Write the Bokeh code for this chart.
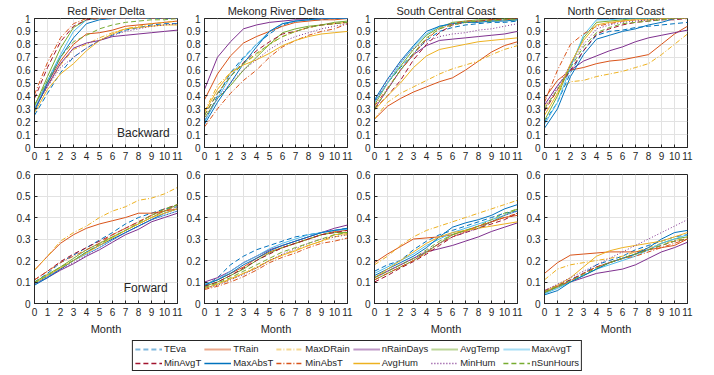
from bokeh.plotting import figure
from bokeh.layouts import column, row
from bokeh.models import (FixedTicker, CustomJSTickFormatter, Label, Legend,
                          LegendItem, Range1d, ColumnDataSource)
from bokeh.embed import file_html
from bokeh.resources import INLINE

# ---------------- data ----------------
MONTHS = list(range(12))
X_TICKS = list(range(12))
Y_TICKS_BACKWARD = [0, 0.1, 0.2, 0.3, 0.4, 0.5, 0.6, 0.7, 0.8, 0.9, 1.0]
Y_TICKS_FORWARD = [0, 0.1, 0.2, 0.3, 0.4, 0.5, 0.6]
REGIONS = ["Red River Delta", "Mekong River Delta", "South Central Coast", "North Central Coast"]
VARIABLES = ["TEva", "TRain", "MaxDRain", "nRainDays", "AvgTemp", "MaxAvgT",
             "MinAvgT", "MaxAbsT", "MinAbsT", "AvgHum", "MinHum", "nSunHours"]

RED_RIVER_BACKWARD = {
    "TEva":      [0.25, 0.42, 0.58, 0.70, 0.77, 0.83, 0.87, 0.91, 0.93, 0.95, 0.96, 0.96],
    "TRain":     [0.33, 0.50, 0.67, 0.80, 0.88, 0.89, 0.91, 0.94, 0.95, 0.96, 0.97, 0.98],
    "MaxDRain":  [0.30, 0.48, 0.64, 0.76, 0.80, 0.85, 0.89, 0.92, 0.94, 0.96, 0.97, 0.98],
    "nRainDays": [0.30, 0.48, 0.65, 0.77, 0.81, 0.83, 0.86, 0.87, 0.88, 0.89, 0.90, 0.91],
    "AvgTemp":   [0.32, 0.55, 0.77, 0.93, 0.99, 1.00, 1.00, 1.00, 1.00, 1.00, 1.00, 1.00],
    "MaxAvgT":   [0.30, 0.52, 0.72, 0.90, 0.99, 1.00, 1.00, 1.00, 1.00, 1.00, 1.00, 1.00],
    "MinAvgT":   [0.38, 0.62, 0.82, 0.94, 0.99, 1.00, 1.00, 1.00, 1.00, 1.00, 1.00, 1.00],
    "MaxAbsT":   [0.28, 0.50, 0.70, 0.85, 0.96, 0.99, 1.00, 1.00, 1.00, 1.00, 1.00, 1.00],
    "MinAbsT":   [0.41, 0.66, 0.85, 0.96, 1.00, 1.00, 1.00, 1.00, 1.00, 1.00, 1.00, 1.00],
    "AvgHum":    [0.27, 0.45, 0.57, 0.65, 0.75, 0.83, 0.88, 0.92, 0.93, 0.94, 0.95, 0.95],
    "MinHum":    [0.30, 0.47, 0.62, 0.70, 0.77, 0.83, 0.87, 0.90, 0.92, 0.94, 0.95, 0.96],
    "nSunHours": [0.33, 0.52, 0.70, 0.82, 0.87, 0.92, 0.95, 0.97, 0.98, 0.99, 0.99, 1.00],
}
MEKONG_BACKWARD = {
    "TEva":      [0.20, 0.40, 0.58, 0.70, 0.80, 0.88, 0.95, 0.98, 0.99, 0.99, 1.00, 1.00],
    "TRain":     [0.37, 0.57, 0.71, 0.81, 0.86, 0.90, 0.94, 0.97, 0.98, 0.99, 0.99, 1.00],
    "MaxDRain":  [0.28, 0.48, 0.58, 0.65, 0.72, 0.80, 0.86, 0.90, 0.93, 0.95, 0.96, 0.97],
    "nRainDays": [0.45, 0.70, 0.82, 0.92, 0.95, 0.97, 0.98, 0.99, 0.99, 1.00, 1.00, 1.00],
    "AvgTemp":   [0.23, 0.38, 0.48, 0.60, 0.70, 0.80, 0.89, 0.92, 0.94, 0.95, 0.97, 0.98],
    "MaxAvgT":   [0.20, 0.38, 0.55, 0.69, 0.80, 0.90, 0.96, 0.98, 0.99, 1.00, 1.00, 1.00],
    "MinAvgT":   [0.25, 0.42, 0.55, 0.66, 0.75, 0.82, 0.88, 0.90, 0.93, 0.95, 0.96, 0.97],
    "MaxAbsT":   [0.18, 0.35, 0.50, 0.65, 0.78, 0.90, 0.96, 0.98, 0.99, 1.00, 1.00, 1.00],
    "MinAbsT":   [0.16, 0.30, 0.42, 0.52, 0.60, 0.70, 0.78, 0.83, 0.87, 0.90, 0.92, 0.96],
    "AvgHum":    [0.27, 0.45, 0.58, 0.64, 0.68, 0.73, 0.79, 0.83, 0.86, 0.88, 0.89, 0.90],
    "MinHum":    [0.22, 0.38, 0.50, 0.60, 0.68, 0.76, 0.82, 0.86, 0.89, 0.92, 0.94, 0.96],
    "nSunHours": [0.25, 0.42, 0.55, 0.65, 0.73, 0.80, 0.86, 0.90, 0.93, 0.95, 0.96, 0.97],
}
SOUTH_CENTRAL_BACKWARD = {
    "TEva":      [0.36, 0.50, 0.62, 0.73, 0.83, 0.90, 0.93, 0.95, 0.96, 0.97, 0.97, 0.98],
    "TRain":     [0.22, 0.32, 0.38, 0.43, 0.47, 0.51, 0.54, 0.60, 0.67, 0.74, 0.79, 0.82],
    "MaxDRain":  [0.22, 0.35, 0.42, 0.47, 0.52, 0.57, 0.61, 0.64, 0.67, 0.72, 0.76, 0.79],
    "nRainDays": [0.30, 0.45, 0.60, 0.72, 0.79, 0.83, 0.84, 0.85, 0.86, 0.87, 0.88, 0.90],
    "AvgTemp":   [0.33, 0.50, 0.63, 0.76, 0.87, 0.93, 0.97, 0.98, 0.99, 0.99, 1.00, 1.00],
    "MaxAvgT":   [0.35, 0.50, 0.65, 0.78, 0.88, 0.94, 0.96, 0.97, 0.98, 0.98, 0.99, 0.99],
    "MinAvgT":   [0.30, 0.40, 0.52, 0.68, 0.80, 0.89, 0.95, 0.97, 0.98, 0.99, 0.99, 1.00],
    "MaxAbsT":   [0.37, 0.53, 0.67, 0.79, 0.90, 0.94, 0.96, 0.97, 0.97, 0.98, 0.98, 0.99],
    "MinAbsT":   [0.32, 0.46, 0.60, 0.72, 0.84, 0.92, 0.96, 0.98, 0.98, 0.99, 0.99, 1.00],
    "AvgHum":    [0.29, 0.40, 0.50, 0.62, 0.71, 0.76, 0.78, 0.80, 0.82, 0.83, 0.84, 0.85],
    "MinHum":    [0.35, 0.52, 0.66, 0.77, 0.82, 0.86, 0.88, 0.89, 0.91, 0.92, 0.94, 0.96],
    "nSunHours": [0.30, 0.45, 0.60, 0.73, 0.85, 0.92, 0.95, 0.97, 0.98, 0.98, 0.99, 0.99],
}
NORTH_CENTRAL_BACKWARD = {
    "TEva":      [0.20, 0.35, 0.58, 0.75, 0.87, 0.90, 0.91, 0.93, 0.94, 0.95, 0.96, 0.97],
    "TRain":     [0.38, 0.52, 0.60, 0.62, 0.65, 0.67, 0.68, 0.70, 0.72, 0.80, 0.88, 0.94],
    "MaxDRain":  [0.32, 0.43, 0.51, 0.52, 0.55, 0.57, 0.59, 0.62, 0.65, 0.72, 0.80, 0.88],
    "nRainDays": [0.33, 0.48, 0.60, 0.67, 0.71, 0.75, 0.78, 0.82, 0.85, 0.87, 0.89, 0.91],
    "AvgTemp":   [0.21, 0.40, 0.64, 0.85, 0.97, 0.98, 0.99, 1.00, 1.00, 1.00, 1.00, 1.00],
    "MaxAvgT":   [0.18, 0.35, 0.62, 0.87, 0.99, 0.99, 1.00, 1.00, 1.00, 1.00, 1.00, 1.00],
    "MinAvgT":   [0.28, 0.45, 0.60, 0.75, 0.88, 0.92, 0.95, 0.97, 0.98, 0.99, 0.99, 1.00],
    "MaxAbsT":   [0.15, 0.30, 0.55, 0.72, 0.84, 0.87, 0.90, 0.92, 0.95, 0.97, 1.00, 1.00],
    "MinAbsT":   [0.35, 0.60, 0.80, 0.88, 0.94, 0.96, 0.98, 0.99, 0.99, 1.00, 1.00, 1.00],
    "AvgHum":    [0.25, 0.42, 0.65, 0.83, 0.95, 0.97, 0.98, 0.99, 0.99, 1.00, 1.00, 1.00],
    "MinHum":    [0.30, 0.47, 0.64, 0.80, 0.92, 0.95, 0.97, 0.98, 0.99, 0.99, 1.00, 1.00],
    "nSunHours": [0.30, 0.45, 0.62, 0.78, 0.89, 0.93, 0.96, 0.97, 0.98, 0.99, 1.00, 1.00],
}
RED_RIVER_FORWARD = {
    "TEva":      [0.100, 0.140, 0.190, 0.225, 0.260, 0.295, 0.330, 0.370, 0.400, 0.420, 0.440, 0.450],
    "TRain":     [0.155, 0.220, 0.280, 0.320, 0.350, 0.370, 0.385, 0.400, 0.420, 0.420, 0.430, 0.440],
    "MaxDRain":  [0.155, 0.220, 0.290, 0.330, 0.360, 0.400, 0.430, 0.450, 0.480, 0.490, 0.510, 0.540],
    "nRainDays": [0.090, 0.120, 0.155, 0.185, 0.220, 0.250, 0.285, 0.320, 0.345, 0.380, 0.400, 0.420],
    "AvgTemp":   [0.100, 0.135, 0.170, 0.210, 0.250, 0.280, 0.310, 0.340, 0.370, 0.400, 0.430, 0.460],
    "MaxAvgT":   [0.090, 0.125, 0.160, 0.200, 0.230, 0.260, 0.295, 0.330, 0.360, 0.390, 0.410, 0.430],
    "MinAvgT":   [0.110, 0.150, 0.195, 0.230, 0.260, 0.290, 0.320, 0.350, 0.380, 0.410, 0.440, 0.460],
    "MaxAbsT":   [0.085, 0.120, 0.160, 0.200, 0.240, 0.270, 0.300, 0.330, 0.360, 0.390, 0.420, 0.440],
    "MinAbsT":   [0.110, 0.150, 0.190, 0.220, 0.250, 0.280, 0.320, 0.350, 0.380, 0.410, 0.430, 0.450],
    "AvgHum":    [0.095, 0.130, 0.165, 0.200, 0.235, 0.270, 0.305, 0.340, 0.370, 0.400, 0.420, 0.440],
    "MinHum":    [0.090, 0.125, 0.160, 0.190, 0.225, 0.260, 0.295, 0.330, 0.360, 0.390, 0.410, 0.430],
    "nSunHours": [0.095, 0.130, 0.170, 0.200, 0.240, 0.275, 0.310, 0.340, 0.375, 0.410, 0.440, 0.460],
}
MEKONG_FORWARD = {
    "TEva":      [0.080, 0.120, 0.180, 0.220, 0.250, 0.270, 0.290, 0.310, 0.320, 0.330, 0.340, 0.350],
    "TRain":     [0.090, 0.110, 0.140, 0.170, 0.210, 0.240, 0.260, 0.280, 0.300, 0.320, 0.335, 0.340],
    "MaxDRain":  [0.070, 0.090, 0.110, 0.140, 0.170, 0.200, 0.225, 0.250, 0.270, 0.290, 0.310, 0.320],
    "nRainDays": [0.100, 0.120, 0.150, 0.190, 0.220, 0.250, 0.270, 0.290, 0.310, 0.330, 0.350, 0.365],
    "AvgTemp":   [0.080, 0.100, 0.130, 0.160, 0.200, 0.235, 0.260, 0.280, 0.300, 0.320, 0.330, 0.330],
    "MaxAvgT":   [0.090, 0.110, 0.150, 0.190, 0.220, 0.255, 0.280, 0.300, 0.320, 0.330, 0.340, 0.345],
    "MinAvgT":   [0.080, 0.100, 0.130, 0.165, 0.200, 0.230, 0.260, 0.280, 0.300, 0.320, 0.330, 0.340],
    "MaxAbsT":   [0.085, 0.110, 0.140, 0.180, 0.210, 0.245, 0.270, 0.290, 0.310, 0.330, 0.340, 0.350],
    "MinAbsT":   [0.065, 0.080, 0.100, 0.125, 0.155, 0.190, 0.215, 0.235, 0.260, 0.280, 0.290, 0.305],
    "AvgHum":    [0.070, 0.090, 0.115, 0.140, 0.165, 0.200, 0.225, 0.245, 0.270, 0.290, 0.320, 0.325],
    "MinHum":    [0.070, 0.085, 0.110, 0.135, 0.165, 0.200, 0.230, 0.255, 0.280, 0.300, 0.310, 0.320],
    "nSunHours": [0.075, 0.095, 0.120, 0.150, 0.180, 0.210, 0.240, 0.260, 0.280, 0.300, 0.320, 0.330],
}
SOUTH_CENTRAL_FORWARD = {
    "TEva":      [0.150, 0.180, 0.200, 0.250, 0.290, 0.320, 0.340, 0.360, 0.380, 0.400, 0.420, 0.430],
    "TRain":     [0.190, 0.230, 0.265, 0.300, 0.305, 0.310, 0.320, 0.340, 0.360, 0.380, 0.400, 0.410],
    "MaxDRain":  [0.180, 0.220, 0.270, 0.310, 0.340, 0.360, 0.380, 0.400, 0.420, 0.440, 0.460, 0.480],
    "nRainDays": [0.120, 0.150, 0.180, 0.210, 0.240, 0.255, 0.270, 0.290, 0.310, 0.335, 0.355, 0.375],
    "AvgTemp":   [0.110, 0.140, 0.170, 0.200, 0.240, 0.280, 0.320, 0.340, 0.350, 0.380, 0.410, 0.440],
    "MaxAvgT":   [0.140, 0.170, 0.200, 0.230, 0.270, 0.300, 0.330, 0.350, 0.370, 0.390, 0.410, 0.430],
    "MinAvgT":   [0.100, 0.130, 0.165, 0.195, 0.230, 0.270, 0.310, 0.330, 0.350, 0.370, 0.390, 0.420],
    "MaxAbsT":   [0.130, 0.160, 0.190, 0.220, 0.260, 0.310, 0.355, 0.375, 0.390, 0.410, 0.440, 0.460],
    "MinAbsT":   [0.110, 0.140, 0.170, 0.200, 0.235, 0.280, 0.310, 0.335, 0.360, 0.380, 0.400, 0.420],
    "AvgHum":    [0.120, 0.160, 0.200, 0.240, 0.280, 0.310, 0.330, 0.340, 0.350, 0.360, 0.370, 0.380],
    "MinHum":    [0.120, 0.150, 0.180, 0.210, 0.245, 0.280, 0.310, 0.330, 0.350, 0.380, 0.410, 0.430],
    "nSunHours": [0.120, 0.150, 0.180, 0.210, 0.250, 0.290, 0.320, 0.340, 0.360, 0.390, 0.420, 0.440],
}
NORTH_CENTRAL_FORWARD = {
    "TEva":      [0.050, 0.080, 0.110, 0.140, 0.180, 0.200, 0.220, 0.250, 0.270, 0.290, 0.310, 0.320],
    "TRain":     [0.140, 0.190, 0.225, 0.230, 0.235, 0.240, 0.240, 0.240, 0.250, 0.260, 0.270, 0.300],
    "MaxDRain":  [0.110, 0.160, 0.180, 0.190, 0.200, 0.210, 0.220, 0.240, 0.260, 0.280, 0.290, 0.310],
    "nRainDays": [0.050, 0.080, 0.100, 0.120, 0.140, 0.150, 0.160, 0.180, 0.210, 0.240, 0.260, 0.285],
    "AvgTemp":   [0.050, 0.075, 0.100, 0.130, 0.160, 0.190, 0.210, 0.230, 0.250, 0.280, 0.300, 0.310],
    "MaxAvgT":   [0.045, 0.070, 0.100, 0.130, 0.160, 0.180, 0.200, 0.220, 0.250, 0.280, 0.300, 0.320],
    "MinAvgT":   [0.060, 0.085, 0.110, 0.140, 0.170, 0.190, 0.210, 0.230, 0.250, 0.270, 0.290, 0.300],
    "MaxAbsT":   [0.040, 0.060, 0.100, 0.130, 0.160, 0.190, 0.210, 0.230, 0.260, 0.300, 0.330, 0.340],
    "MinAbsT":   [0.055, 0.080, 0.105, 0.140, 0.170, 0.190, 0.210, 0.220, 0.240, 0.260, 0.280, 0.300],
    "AvgHum":    [0.055, 0.085, 0.120, 0.170, 0.220, 0.245, 0.260, 0.270, 0.280, 0.290, 0.310, 0.330],
    "MinHum":    [0.060, 0.090, 0.120, 0.150, 0.180, 0.210, 0.240, 0.270, 0.300, 0.330, 0.360, 0.390],
    "nSunHours": [0.055, 0.080, 0.105, 0.135, 0.165, 0.190, 0.210, 0.230, 0.250, 0.270, 0.290, 0.300],
}

BACKWARD = [RED_RIVER_BACKWARD, MEKONG_BACKWARD, SOUTH_CENTRAL_BACKWARD, NORTH_CENTRAL_BACKWARD]
FORWARD = [RED_RIVER_FORWARD, MEKONG_FORWARD, SOUTH_CENTRAL_FORWARD, NORTH_CENTRAL_FORWARD]

# ---------------- styles ----------------
C1, C2, C3, C4, C5, C6, C7 = ("#0072BD", "#D95319", "#EDB120", "#7E2F8E",
                              "#77AC30", "#4DBEEE", "#A2142F")
DASH, DASHDOT, DOT = "5 3", "5 2 1 2", "1 2"
STYLE = {
    "TEva": (C1, DASH), "TRain": (C2, "solid"), "MaxDRain": (C3, DASHDOT),
    "nRainDays": (C4, "solid"), "AvgTemp": (C5, "solid"), "MaxAvgT": (C6, "solid"),
    "MinAvgT": (C7, DASH), "MaxAbsT": (C1, "solid"), "MinAbsT": (C2, DASHDOT),
    "AvgHum": (C3, "solid"), "MinHum": (C4, DOT), "nSunHours": (C5, DASH),
}
TXT = "#262626"
FONT = "Liberation Sans"
GRID = "#e2e2e2"

LEFTS = [34, 19, 21, 19]
RIGHTS = [6, 6, 6, 31]

yfmt_code = "return String(Math.round(tick*10)/10);"


def make_panel(series, idx, top_row):
    ymax = 1.0 if top_row else 0.6
    yt = Y_TICKS_BACKWARD if top_row else Y_TICKS_FORWARD
    p = figure(frame_width=143, frame_height=129,
               x_range=Range1d(0, 11), y_range=Range1d(0, ymax),
               output_backend="svg", toolbar_location=None,
               min_border_left=LEFTS[idx], min_border_right=RIGHTS[idx],
               min_border_top=18 if top_row else 11,
               min_border_bottom=16 if top_row else 35,
               background_fill_color="white", border_fill_color="white")
    if top_row:
        p.title.text = REGIONS[idx]
        p.title.align = "center"
        p.title.text_font = FONT
        p.title.text_font_size = "11px"
        p.title.text_font_style = "normal"
        p.title.text_color = TXT
        p.title.standoff = 3
    p.xaxis.ticker = FixedTicker(ticks=X_TICKS)
    p.yaxis.ticker = FixedTicker(ticks=yt)
    p.yaxis.formatter = CustomJSTickFormatter(code=yfmt_code)
    for ax in (p.xaxis[0], p.yaxis[0]):
        ax.major_tick_in = 3
        ax.major_tick_out = 0
        ax.minor_tick_line_color = None
        ax.axis_line_color = TXT
        ax.major_tick_line_color = TXT
        ax.major_label_text_font = FONT
        ax.major_label_text_font_size = "10px"
        ax.major_label_text_color = TXT
        ax.major_label_standoff = 4
    if not top_row:
        p.xaxis.axis_label = "Month"
        p.xaxis.axis_label_text_font = FONT
        p.xaxis.axis_label_text_font_size = "11px"
        p.xaxis.axis_label_text_font_style = "normal"
        p.xaxis.axis_label_text_color = TXT
        p.xaxis.axis_label_standoff = 4
    p.xgrid.ticker = FixedTicker(ticks=X_TICKS)
    p.ygrid.ticker = FixedTicker(ticks=yt)
    p.grid.grid_line_color = GRID
    p.grid.grid_line_alpha = 1
    p.outline_line_color = TXT
    p.outline_line_alpha = 1
    p.outline_line_width = 1
    for v in VARIABLES:
        col, dash = STYLE[v]
        p.line(MONTHS, series[v], line_color=col, line_dash=dash, line_width=1)
    if idx == 0:
        txt = "Backward" if top_row else "Forward"
        ly = 0.11 if top_row else 0.07
        lx = 10.4 if top_row else 10.25
        p.add_layout(Label(x=lx, y=ly, text=txt, text_align="right",
                           text_baseline="middle", text_font=FONT,
                           text_font_size="12px", text_color=TXT))
    return p


top = [make_panel(BACKWARD[i], i, True) for i in range(4)]
bottom = [make_panel(FORWARD[i], i, False) for i in range(4)]

# legend-only figure: its view range lies far outside the data, so the
# proxy lines (one series each) are not visible; only the legend is drawn
lf = figure(width=714, height=37, output_backend="svg", toolbar_location=None,
            min_border=0, x_range=Range1d(100, 101), y_range=Range1d(100, 101),
            border_fill_color="white", background_fill_color="white")
lf.axis.visible = False
lf.grid.visible = False
lf.outline_line_color = None
items = []
for i, v in enumerate(VARIABLES):
    col, dash = STYLE[v]
    first_row = i < 6
    src = ColumnDataSource(dict(xs=[MONTHS], ys=[RED_RIVER_BACKWARD[v]],
                                color=[col]))
    r = lf.multi_line(xs="xs", ys="ys", line_color="color", source=src,
                      line_dash=dash, line_width=2 if first_row else 1.5,
                      line_alpha=0.5 if first_row else 1.0)
    items.append(LegendItem(label=v, renderers=[r], index=0))
leg = Legend(items=items, ncols=6, orientation="horizontal",
             location="top_center",
             label_text_font=FONT, label_text_font_size="9.5px",
             label_text_color=TXT, glyph_width=27, glyph_height=10,
             label_height=10, label_standoff=2, spacing=3, padding=2,
             margin=2, border_line_color=TXT, border_line_width=1,
             border_line_alpha=1, background_fill_alpha=1)
lf.add_layout(leg)

layout = column(row(*top), row(*bottom), lf)
open("out.html", "w").write(file_html(layout, INLINE))
